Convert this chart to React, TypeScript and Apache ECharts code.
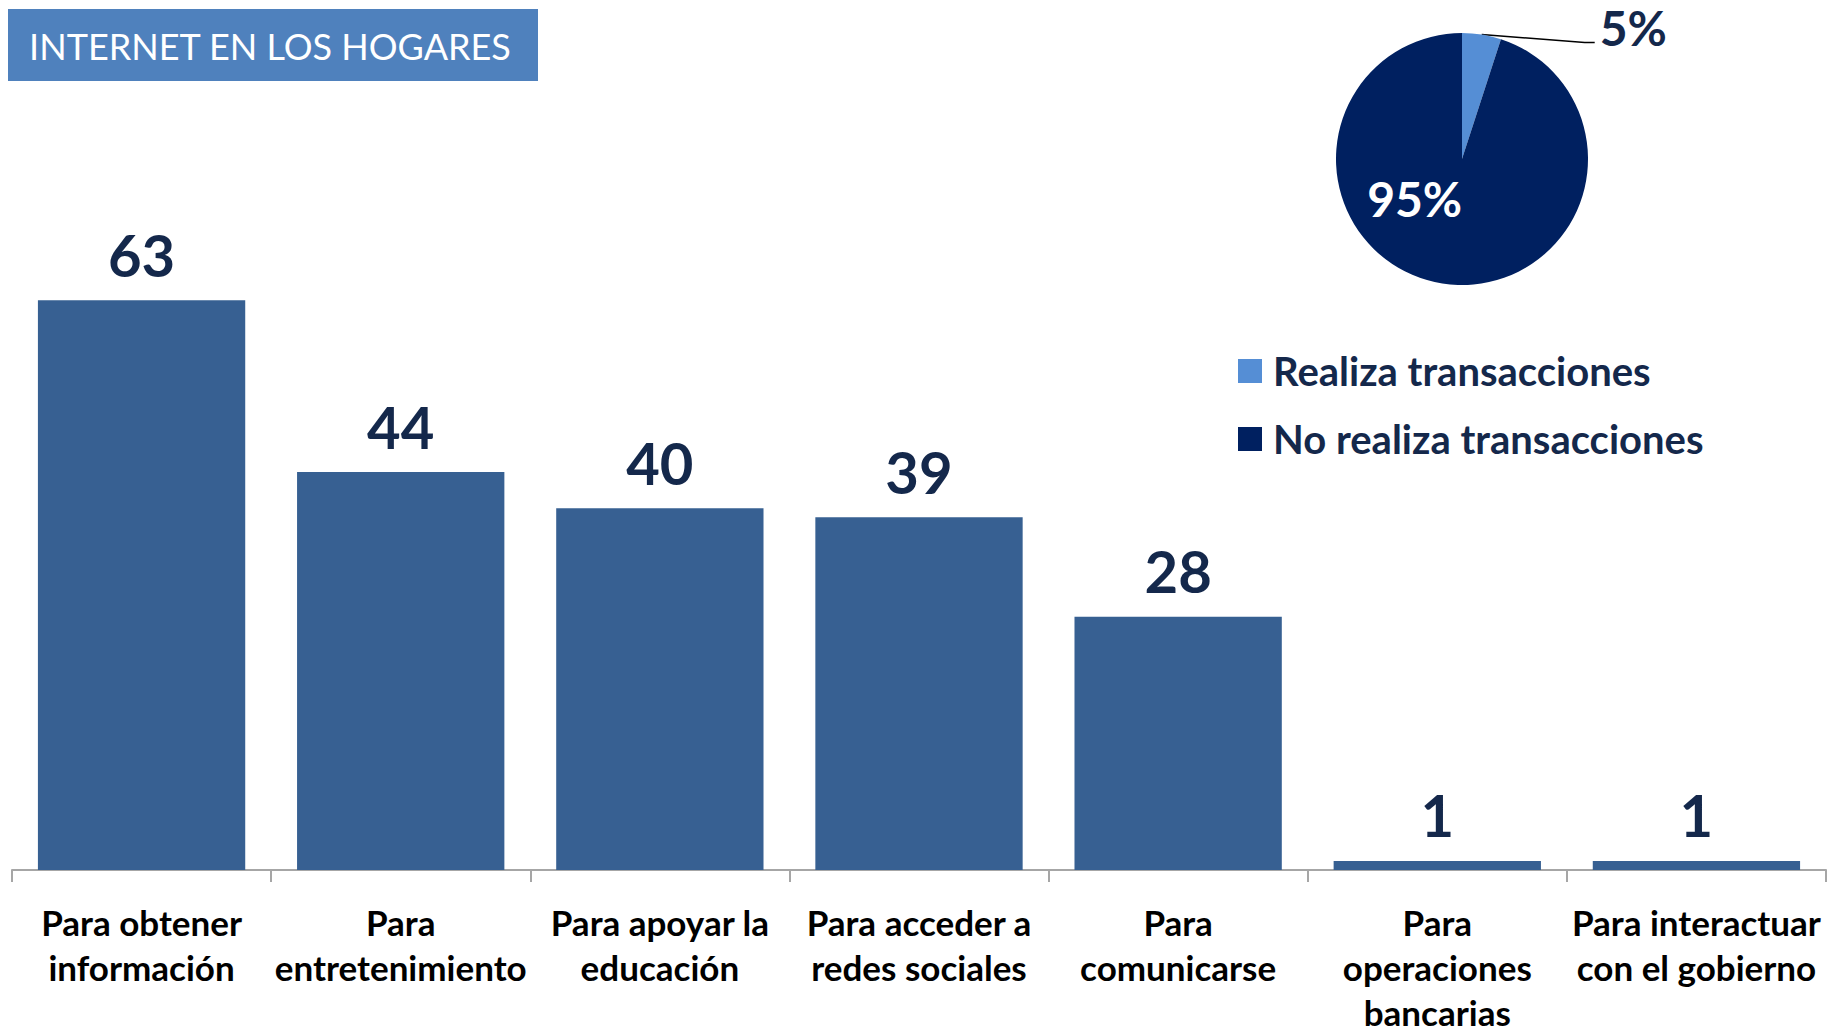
import React, { useEffect, useRef } from "react";
import * as echarts from "echarts";

const titleText = "INTERNET EN LOS HOGARES";
const categories = [
  "Para obtener\ninformación",
  "Para\nentretenimiento",
  "Para apoyar la\neducación",
  "Para acceder a\nredes sociales",
  "Para\ncomunicarse",
  "Para\noperaciones\nbancarias",
  "Para interactuar\ncon el gobierno",
];
const values = [63, 44, 40, 39, 28, 1, 1];
const pieNames = ["Realiza transacciones", "No realiza transacciones"];
const pieValues = [5, 95];

const FONT = "Lato";
const NAVY_TEXT = "#14284B";

export default function App() {
  const ref = useRef<HTMLDivElement>(null);
  useEffect(() => {
    if (!ref.current) return;
    const chart = echarts.init(ref.current, undefined, { renderer: "svg" });
    chart.setOption({
      animation: false,
      backgroundColor: "#ffffff",
      textStyle: { fontFamily: FONT },
      graphic: [
        {
          type: "rect",
          left: 8,
          top: 9,
          shape: { width: 530, height: 72 },
          style: { fill: "#4F81BD" },
          z: 10,
        },
        {
          type: "text",
          x: 270,
          y: 46,
          z: 11,
          style: {
            text: titleText,
            fill: "#ffffff",
            font: `normal 36px ${FONT}`,
            textAlign: "center",
            textVerticalAlign: "middle",
          },
        },
      ],
      legend: {
        orient: "vertical",
        left: 1233,
        top: 346,
        itemWidth: 24,
        itemHeight: 24,
        itemGap: 28,
        icon: "rect",
        selectedMode: false,
        data: pieNames,
        textStyle: {
          fontFamily: FONT,
          fontSize: 40,
          fontWeight: "bold",
          color: NAVY_TEXT,
          lineHeight: 40,
          padding: [0, 0, 0, 6],
        },
      },
      grid: { left: 12, top: 237, width: 1814, height: 645, containLabel: false },
      xAxis: {
        type: "category",
        data: categories,
        axisLine: { show: true, lineStyle: { color: "#A6A6A6", width: 2 } },
        axisTick: { show: true, length: 12, lineStyle: { color: "#A6A6A6", width: 2 } },
        axisLabel: {
          interval: 0,
          margin: 29,
          fontFamily: FONT,
          fontSize: 35,
          fontWeight: "bold",
          color: "#000000",
          lineHeight: 45,
          align: "center",
        },
      },
      yAxis: { type: "value", min: 0, max: 70, show: false, splitLine: { show: false } },
      series: [
        {
          type: "bar",
          data: values,
          barCategoryGap: "20%",
          itemStyle: { color: "#376092" },
          label: {
            show: true,
            position: "top",
            distance: 17,
            fontFamily: FONT,
            fontSize: 58,
            fontWeight: "bold",
            color: NAVY_TEXT,
          },
        },
        {
          type: "pie",
          center: [1462, 159],
          radius: 126,
          startAngle: 90,
          clockwise: true,
          data: [
            {
              name: pieNames[0],
              value: pieValues[0],
              itemStyle: { color: "#558ED5" },
            },
            {
              name: pieNames[1],
              value: pieValues[1],
              itemStyle: { color: "#002060" },
              label: { position: "inside", color: "#ffffff" },
              labelLine: { show: false },
            },
          ],
          label: {
            show: true,
            position: "outside",
            formatter: "{d}%",
            fontFamily: FONT,
            fontSize: 48,
            fontWeight: "bold",
            color: NAVY_TEXT,
          },
          labelLine: {
            show: true,
            length: 20,
            length2: 20,
            lineStyle: { color: "#000000", width: 1.5 },
          },
          labelLayout: (params: any) => {
            if (params.dataIndex === 0) {
              const pts = params.labelLinePoints;
              if (!pts || !pts.length) return {};
              const p0 = pts[0];
              const mid = [p0[0] + 103, p0[1] + 8];
              const end = [p0[0] + 113, p0[1] + 8];
              return {
                x: end[0] + 5,
                y: end[1] - 15,
                align: "left",
                verticalAlign: "middle",
                labelLinePoints: [p0, mid, end],
              };
            }
            return { dx: -37, dy: -26 };
          },
        },
      ],
    });
    return () => chart.dispose();
  }, []);
  return (
    <div
      ref={ref}
      style={{ position: "fixed", left: 0, top: 0, width: 1833, height: 1034 }}
    />
  );
}
